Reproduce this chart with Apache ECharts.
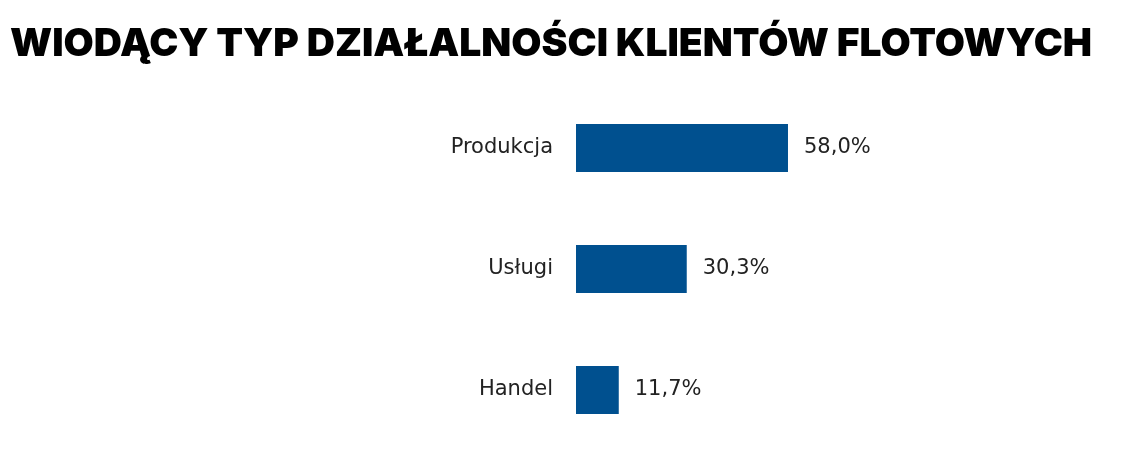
<!DOCTYPE html>
<html><head><meta charset="utf-8">
<script src="https://cdn.jsdelivr.net/npm/echarts@6/dist/echarts.min.js"></script>
<style>html,body{margin:0;padding:0;background:#fff}#c{width:1140px;height:464px}</style>
</head><body><div id="c"></div>
<script>
const categories = ['Produkcja', 'Usługi', 'Handel'];
const values = [58.0, 30.3, 11.7];
const titleText = 'WIODĄCY TYP DZIAŁALNOŚCI KLIENTÓW FLOTOWYCH';

const chart = echarts.init(document.getElementById('c'));
chart.setOption({
  animation: false,
  title: {
    text: titleText, left: 5, top: 20,
    textStyle: {fontFamily: 'Inter', fontWeight: 900, fontSize: 39, color: '#000'}
  },
  grid: {left: 576, right: 198.5, top: 87.5, bottom: 13.5},
  xAxis: {type: 'value', min: 0, max: 100, show: false},
  yAxis: {
    type: 'category', data: categories, inverse: true,
    axisLine: {show: false}, axisTick: {show: false},
    axisLabel: {fontFamily: 'DejaVu Sans', fontSize: 21, color: '#222', margin: 23}
  },
  series: [{
    type: 'bar', data: values, barWidth: 48,
    itemStyle: {color: '#00508F'},
    label: {
      show: true, position: 'right', distance: 16,
      fontFamily: 'DejaVu Sans', fontSize: 21, color: '#222',
      formatter: p => p.value.toFixed(1).replace('.', ',') + '%'
    }
  }]
});
</script></body></html>
